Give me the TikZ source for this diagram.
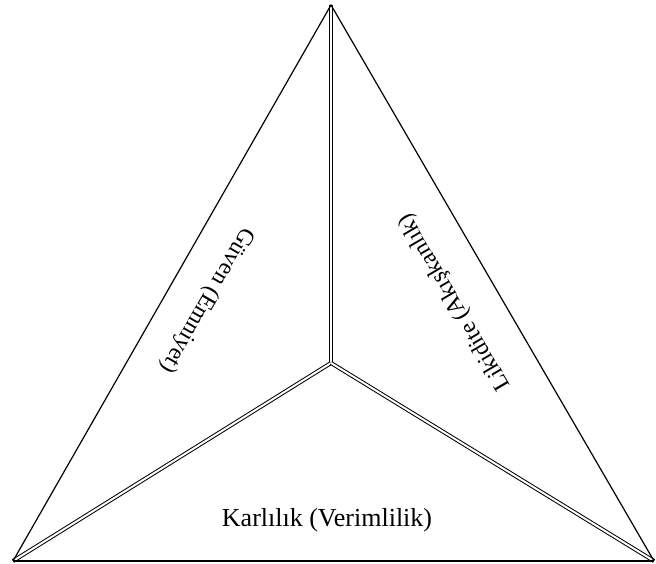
\documentclass[tikz,border=0pt]{standalone}
\usepackage{fontspec}
\setmainfont{Liberation Serif}

\begin{document}
\begin{tikzpicture}[x=1pt,y=1pt,
rayon/.style={draw=black,line width=1pt,double=white,double distance=2pt},
bord/.style={draw=black,line width=1.2pt,line join=miter},
etiquette/.style={font=\fontsize{26}{30}\selectfont,inner sep=0pt},
etiquettepenchee/.style={font=\fontsize{23.6}{28}\selectfont,inner sep=0pt}
]

\useasboundingbox (0,0) rectangle (656,564);

% Sommets du triangle
\coordinate (sommet) at (331,559);
\coordinate (gauche) at (13,3);
\coordinate (droite) at (654,3);
\coordinate (centre) at (331,201);

% Rayons doubles
\draw[rayon] (centre)--(sommet);
\draw[rayon] (centre)--(gauche);
\draw[rayon] (centre)--(droite);

% Triangle principal
\draw[bord] (gauche)--(sommet)--(droite);
\draw[bord,line width=1.6pt] (gauche)--(droite);

% Textes
\node[etiquettepenchee,rotate=-120.2] (guven) at (207,264) {Güven (Emniyet)};
\node[etiquettepenchee,rotate=120.4] (likidite) at (455,262) {Likidite (Akışkanlık)};
\node[etiquette] (karlilik) at (327,44) {Karlılık (Verimlilik)};

\end{tikzpicture}
\end{document}
